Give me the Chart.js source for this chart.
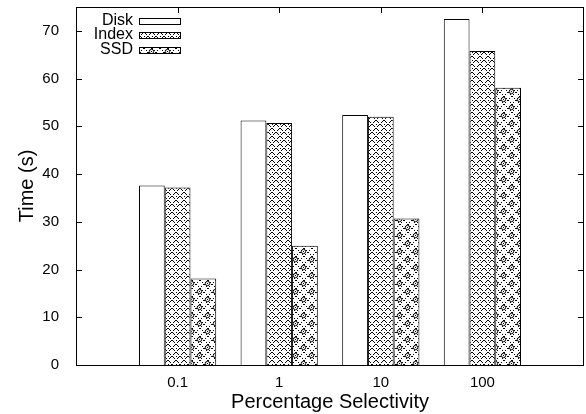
<!DOCTYPE html>
<html>
<head>
<meta charset="utf-8">
<script src="https://cdn.jsdelivr.net/npm/chart.js@4.4.1/dist/chart.umd.min.js"></script>
<style>
    html, body { margin: 0; padding: 0; background: #fff; }
    #wrap { width: 586px; height: 414px; }
</style>
</head>
<body>
<div id="wrap"><canvas id="BarChart" width="586" height="414"></canvas></div>
<script>
// data (empty categories pad the x range)
const categories = ['', '0.1', '1', '10', '100', ''];
const diskTimes = [null, 37.6, 51.2, 52.4, 72.5, null];
const indexTimes = [null, 37.2, 50.7, 52.0, 65.8, null];
const ssdTimes = [null, 18.1, 25.0, 30.7, 58.1, null];
const yTicks = [0, 10, 20, 30, 40, 50, 60, 70];
const seriesNames = ['Disk', 'Index', 'SSD'];

const FONT = '"Liberation Sans", Arial, sans-serif';

document.addEventListener('DOMContentLoaded', () => {
    const ctx = document.getElementById('BarChart').getContext('2d');

    function makePattern(size, draw) {
        const c = document.createElement('canvas');
        c.width = size;
        c.height = size;
        const g = c.getContext('2d');
        g.fillStyle = '#fff';
        g.fillRect(0, 0, size, size);
        g.fillStyle = '#000';
        draw(g, size);
        return ctx.createPattern(c, 'repeat');
    }

    // crossed hatch, pixel lines, a dot in every other diamond
    const indexFill = makePattern(8, (g, s) => {
        for (let i = 0; i < s; i++) {
            if (i % 4 === 3) continue;
            g.fillRect(i, i, 1, 1);
            g.fillRect(s - 1 - i, i, 1, 1);
        }
        g.fillRect(0, 4, 1, 1);
    });

    // denser diamond lattice with small rings
    const ssdFill = makePattern(16, (g, s) => {
        for (let i = 0; i < s; i += 2) {
            g.fillRect(i, i, 1, 1);
            g.fillRect(s - 1 - i, i, 1, 1);
            g.fillRect((i + 8) % s, i, 1, 1);
            g.fillRect((s - 1 - i + 8) % s, i, 1, 1);
        }
        g.strokeStyle = '#000';
        g.lineWidth = 1;
        g.beginPath();
        g.arc(7.5, 3.5, 2.2, 0, Math.PI * 2);
        g.stroke();
        g.beginPath();
        g.arc(15.5, 11.5, 2.2, 0, Math.PI * 2);
        g.stroke();
        g.beginPath();
        g.arc(-0.5, 11.5, 2.2, 0, Math.PI * 2);
        g.stroke();
        g.fillRect(7, 3, 1, 1);
        g.fillRect(15, 11, 1, 1);
    });

    const fills = ['#ffffff', indexFill, ssdFill];

    const frame = {
        id: 'frame',
        beforeDatasetsDraw(chart) {
            const { ctx: c, chartArea: a, scales } = chart;
            c.save();
            c.strokeStyle = '#000';
            c.lineWidth = 1;
            c.beginPath();
            yTicks.forEach(v => {
                const y = Math.round(scales.y.getPixelForValue(v)) + 0.5;
                c.moveTo(a.left, y); c.lineTo(a.left + 6, y);
                c.moveTo(a.right, y); c.lineTo(a.right - 6, y);
            });
            categories.forEach((lab, i) => {
                if (!lab) return;
                const x = Math.round(scales.x.getPixelForValue(i)) + 0.5;
                c.moveTo(x, a.top); c.lineTo(x, a.top + 6);
                c.moveTo(x, a.bottom); c.lineTo(x, a.bottom - 6);
            });
            c.stroke();
            c.restore();
        },
        afterDraw(chart) {
            const { ctx: c, chartArea: a } = chart;
            c.save();
            c.strokeStyle = '#000';
            c.lineWidth = 1;
            c.strokeRect(Math.round(a.left) + 0.5, Math.round(a.top) + 0.5,
                Math.round(a.right - a.left) - 1, Math.round(a.bottom - a.top));
            // key, top left
            c.font = '16px ' + FONT;
            c.fillStyle = '#000';
            c.textAlign = 'right';
            c.textBaseline = 'middle';
            const rows = [21, 35, 50];
            seriesNames.forEach((name, i) => {
                c.fillText(name, 133, rows[i]);
                c.fillStyle = fills[i];
                c.fillRect(139.5, rows[i] - 2.5, 41, 6);
                c.strokeRect(139.5, rows[i] - 2.5, 41, 6);
                c.fillStyle = '#000';
            });
            c.restore();
        }
    };

    new Chart(ctx, {
        type: 'bar',
        data: {
            labels: categories,
            datasets: [diskTimes, indexTimes, ssdTimes].map((d, i) => ({
                label: seriesNames[i],
                data: d,
                backgroundColor: fills[i],
                borderColor: '#000',
                borderWidth: 1,
                borderSkipped: 'bottom',
                categoryPercentage: 0.76,
                barPercentage: 1.0,
            }))
        },
        options: {
            responsive: false,
            animation: false,
            layout: { padding: { top: 7, right: 2, left: 0, bottom: 0 } },
            plugins: {
                legend: { display: false },
                tooltip: { enabled: false },
            },
            scales: {
                x: {
                    type: 'category',
                    offset: false,
                    grid: { display: false, offset: false },
                    border: { display: false },
                    ticks: {
                        color: '#000',
                        font: { family: FONT, size: 15 },
                        padding: 1,
                        maxRotation: 0,
                        autoSkip: false,
                    },
                    title: {
                        display: true,
                        text: 'Percentage Selectivity',
                        color: '#000',
                        font: { family: FONT, size: 20 },
                        padding: { top: 0, bottom: 0 },
                    },
                    afterFit: s => { s.height = 49; s.paddingLeft = 0; s.paddingRight = 0; }
                },
                y: {
                    min: 0,
                    max: 75,
                    grid: { display: false },
                    border: { display: false },
                    afterBuildTicks: s => { s.ticks = yTicks.map(v => ({ value: v })); },
                    ticks: {
                        color: '#000',
                        font: { family: FONT, size: 15 },
                        padding: 9,
                    },
                    title: {
                        display: true,
                        text: 'Time (s)',
                        color: '#000',
                        font: { family: FONT, size: 20 },
                        padding: { top: 15, bottom: 0 },
                    },
                    afterFit: s => { s.width = 76; s.paddingTop = 0; s.paddingBottom = 0; }
                }
            }
        },
        plugins: [frame]
    });
});
</script>
</body>
</html>
